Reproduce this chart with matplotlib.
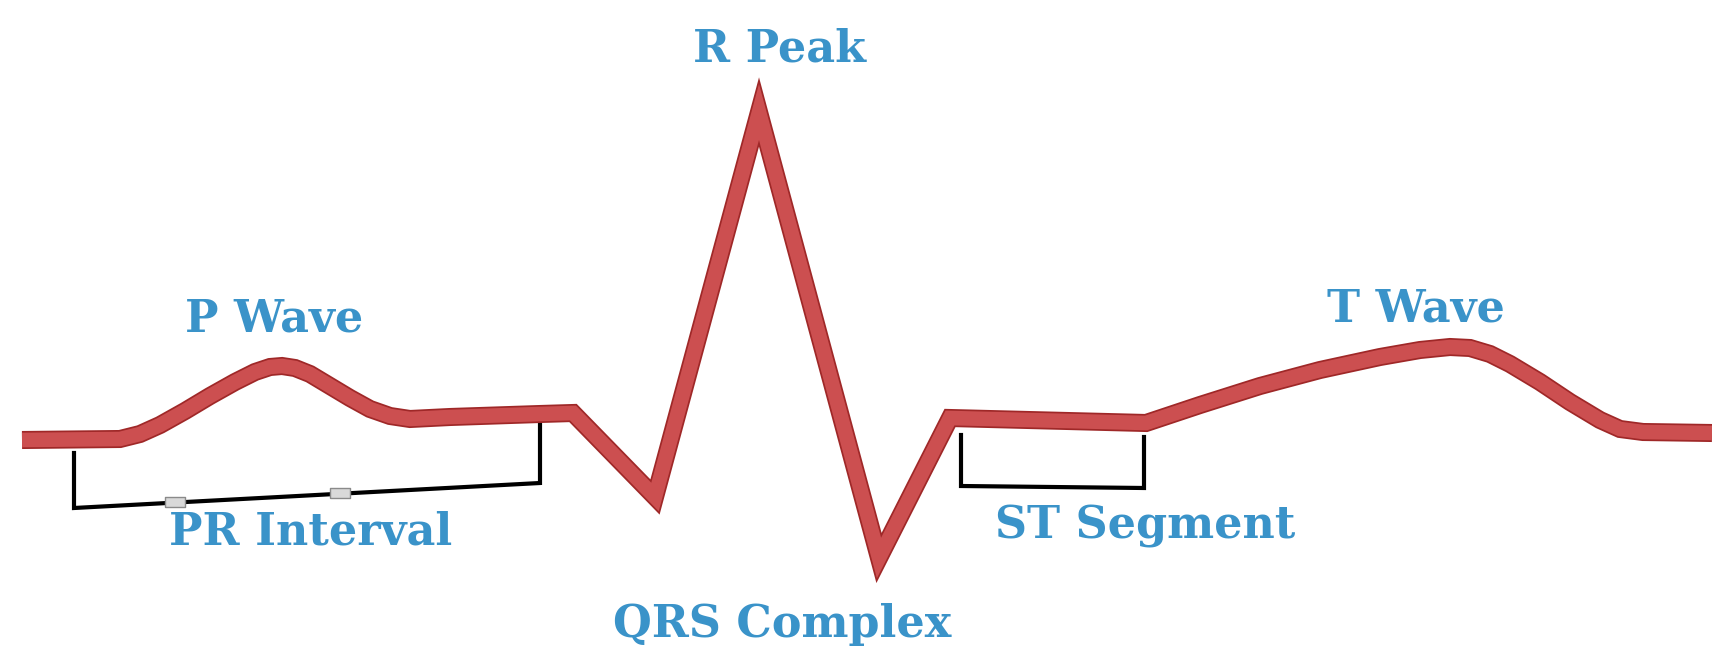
import matplotlib.pyplot as plt
import matplotlib.patheffects as pe

# ECG trace (x across, y down, picture units)
ecg_x = [22, 120, 140, 160, 185, 210, 235, 255, 270, 282, 295, 310, 330, 350,
         370, 390, 410, 450, 540, 573,
         655, 759, 879, 950, 1146,
         1200, 1260, 1320, 1380, 1420, 1450, 1470, 1490, 1510, 1540, 1570,
         1600, 1620, 1643, 1712]
ecg_y = [440, 439, 434, 425, 411, 396, 382, 372, 367, 366, 368, 374, 386, 398,
         409, 416, 419, 417, 414, 413,
         497, 112, 558, 418, 423,
         405, 386, 370, 357, 350, 347, 348, 354, 364, 382, 402,
         420, 429, 432, 433]

# brackets under the trace
pr_x = [74, 74, 540, 540]
pr_y = [453, 508, 483, 413]
pr_marks_x = [175, 340]
pr_marks_y = [502, 493]
st_x = [961, 961, 1144, 1144]
st_y = [435, 486, 488, 437]

labels = ["R Peak", "P Wave", "PR Interval", "ST Segment", "QRS Complex", "T Wave"]
label_x = [780, 274, 311, 1145, 782, 1416]
label_y = [49, 319, 532, 526, 625, 309]

fig = plt.figure(figsize=(17.12, 6.52), dpi=100)
ax = fig.add_axes([0, 0, 1, 1])
ax.set_xlim(0, 1712)
ax.set_ylim(652, 0)
ax.axis("off")

ax.plot(pr_x, pr_y, color="black", lw=3, solid_joinstyle="miter")
ax.plot(st_x, st_y, color="black", lw=3, solid_joinstyle="miter")
rect = [(-2, -1), (2, -1), (2, 1), (-2, 1), (-2, -1)]
ax.plot(pr_marks_x, pr_marks_y, ls="none", marker=rect, ms=14,
        mfc="#d9d9d9", mec="#8a8a8a", mew=1)

ax.plot(ecg_x, ecg_y, color="#cc4f50", lw=10.5, solid_joinstyle="miter",
        solid_capstyle="butt",
        path_effects=[pe.Stroke(linewidth=13, foreground="#9f2828", joinstyle="miter"),
                      pe.Normal()])

for t, x, y in zip(labels, label_x, label_y):
    ax.text(x, y, t, ha="center", va="center", color="#3a93c9",
            family="DejaVu Serif", fontweight="bold", fontsize=32)

fig.savefig("out.png", dpi=100)
